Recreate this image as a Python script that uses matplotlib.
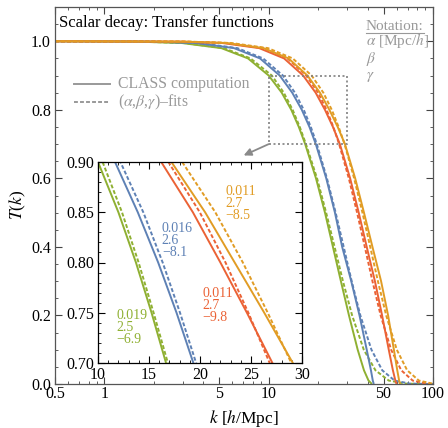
import matplotlib
matplotlib.use('Agg')
import matplotlib.pyplot as plt
from matplotlib.lines import Line2D
from matplotlib.patches import Rectangle
from matplotlib.ticker import MultipleLocator, NullFormatter, LogLocator

plt.rcParams['font.family'] = ['Liberation Serif', 'DejaVu Serif']
plt.rcParams['mathtext.fontset'] = 'stix'

# ---------------- data ----------------
# transfer-function levels at which k was read
T_solid = [1.0, 0.999, 0.995, 0.98, 0.95, 0.9, 0.85, 0.8, 0.75, 0.7, 0.6, 0.5,
           0.4, 0.3, 0.2, 0.1, 0.04, 0.01, 0.0]
T_fit = [1.0, 0.999, 0.995, 0.98, 0.95, 0.9, 0.85, 0.8, 0.75, 0.7, 0.6, 0.5,
         0.4, 0.3, 0.2, 0.1, 0.04, 0.01, 0.001, 0.0]

# CLASS computation (solid), k in h/Mpc
k_green_class = [0.5, 1.55, 2.95, 5.15, 7.48, 10.0, 12.0, 13.72, 15.25, 16.67, 19.4, 22.0,
                 24.6, 27.5, 30.8, 34.8, 38.0, 40.5, 42.5]
k_blue_class = [0.5, 1.95, 3.6, 6.15, 8.85, 11.67, 13.9, 15.9, 17.7, 19.35, 22.4, 25.3,
                28.0, 31.8, 35.7, 39.5, 41.9, 43.0, 43.6]
k_red_class = [0.5, 2.85, 5.2, 8.75, 12.4, 16.2, 19.3, 22.0, 24.6, 27.1, 31.3, 35.3,
               39.5, 44.3, 49.0, 53.8, 57.0, 59.0, 60.0]
k_orange_class = [0.5, 3.05, 5.55, 9.3, 13.2, 17.2, 20.5, 23.4, 26.3, 29.1, 33.6, 38.0,
                  42.8, 48.3, 53.3, 57.8, 60.6, 62.2, 63.0]

# (alpha, beta, gamma)-fits (dashed)
k_green_fit = [0.5, 1.60, 3.05, 5.33, 7.75, 10.45, 12.35, 13.98, 15.45, 16.85, 19.69, 22.36,
               25.17, 28.3, 32.19, 37.9, 44.62, 53.81, 68.3, 100]
k_blue_fit = [0.5, 2.03, 3.77, 6.45, 9.24, 12.2, 14.44, 16.34, 18.04, 19.62, 22.62, 25.55,
              28.6, 31.99, 36.12, 42.2, 49.08, 58.37, 72.5, 100]
k_red_fit = [0.5, 3.02, 5.49, 9.21, 13.0, 16.9, 19.98, 22.5, 24.74, 26.83, 30.74, 34.5,
             38.46, 42.8, 48.02, 55.6, 64.07, 75.23, 91.7, 100]
k_orange_fit = [0.5, 3.25, 5.91, 9.90, 13.99, 18.25, 21.5, 24.2, 26.64, 28.95, 33.11, 37.2,
                41.48, 46.2, 51.9, 60.2, 69.6, 82.1, 99.5, 100]

# fit parameters shown as labels
alpha_lbl = ['0.019', '0.016', '0.011', '0.011']
beta_lbl = ['2.5', '2.6', '2.7', '2.7']
gamma_lbl = ['\u22126.9', '\u22128.1', '\u22129.8', '\u22128.5']

colors = ['#8FB032', '#5E81B5', '#EB6235', '#E19C24']
class_k = [k_green_class, k_blue_class, k_red_class, k_orange_class]
fit_k = [k_green_fit, k_blue_fit, k_red_fit, k_orange_fit]

main_xticks = [0.5, 1, 5, 10, 50, 100]
main_xlabels = ['0.5', '1', '5', '10', '50', '100']
main_yticks = [0.0, 0.2, 0.4, 0.6, 0.8, 1.0]
inset_xticks = [10, 15, 20, 25, 30]
inset_yticks = [0.70, 0.75, 0.80, 0.85, 0.90]

# ---------------- figure ----------------
W, H = 448, 428
fig = plt.figure(figsize=(W / 100, H / 100), dpi=100)


def fx(px):
    return px / W


def fy(py):
    return 1 - py / H


GRAY = '#999999'
LW = 1.4
DASH = (2.0, 1.1)

ax = fig.add_axes([fx(55), fy(384), fx(433) - fx(55), fy(7) - fy(384)])
ax.set_xscale('log')
ax.set_xlim(0.5, 100)
ax.set_ylim(0, 1.1)

for c, kc, kf in zip(colors, class_k, fit_k):
    ax.plot(kc, T_solid, color=c, lw=LW, solid_capstyle='butt')
    ax.plot(kf, T_fit, color=c, lw=LW, dashes=DASH)

ax.set_xticks(main_xticks)
ax.set_xticklabels(main_xlabels)
ax.xaxis.set_minor_locator(LogLocator(base=10, subs=[2, 3, 4, 5, 6, 7, 8, 9], numticks=20))
ax.xaxis.set_minor_formatter(NullFormatter())
ax.set_yticks(main_yticks)
ax.set_yticklabels([f'{v:.1f}' for v in main_yticks])
ax.yaxis.set_minor_locator(MultipleLocator(0.05))
ax.tick_params(which='both', direction='in', top=True, right=True, labelsize=11.5,
               color='#444444')
ax.tick_params(which='major', length=5, width=0.8)
ax.tick_params(which='minor', length=2.5, width=0.6)
ax.tick_params(axis='x', pad=1.5)
ax.tick_params(axis='y', pad=3)
for s in ax.spines.values():
    s.set_color('#555555')
    s.set_linewidth(0.9)

ax.set_xlabel(r'$k$ [$h$/Mpc]', fontsize=12.5, labelpad=4)
ax.set_ylabel(r'$T$($k$)', fontsize=12.5)
ax.yaxis.set_label_coords(-0.072, 0.475)

# zoom box and arrow
ax.add_patch(Rectangle((10, 0.7), 20, 0.2, fill=False, ec='#808080', lw=1.2,
                       ls=(0, (1.2, 1.5)), zorder=5))
ax.annotate('', xy=(7.04, 0.667), xytext=(10, 0.7),
            arrowprops=dict(arrowstyle='-|>', color='#8a8a8a', lw=1.3,
                            mutation_scale=11, shrinkA=0, shrinkB=0), zorder=5)

# title
fig.text(fx(59), fy(23), 'Scalar decay: Transfer functions', fontsize=12, va='center',
         ha='left', color='black')

# legend
fig.add_artist(Line2D([fx(74), fx(110)], [fy(84), fy(84)], color=GRAY, lw=LW))
fig.add_artist(Line2D([fx(74), fx(110)], [fy(102), fy(102)], color=GRAY, lw=LW,
                      dashes=DASH))
fig.text(fx(118), fy(84), 'CLASS computation', fontsize=11.3, color=GRAY, va='center')
fig.text(fx(118), fy(102), r'($\alpha$,$\beta$,$\gamma$)' + '\u2013fits', fontsize=11.3,
         color=GRAY, va='center')

# notation block
fig.text(fx(366), fy(26.5), 'Notation:', fontsize=11, color=GRAY, va='center')
fig.add_artist(Line2D([fx(366), fx(424)], [fy(33), fy(33)], color=GRAY, lw=0.8))
fig.text(fx(366), fy(57.5), r'$\alpha$ [Mpc/$h$]' + '\n' + r'$\beta$' + '\n' + r'$\gamma$',
         fontsize=11, color=GRAY, va='center', ha='left', linespacing=1.0)

# ---------------- inset ----------------
ins = fig.add_axes([fx(98), fy(363), fx(302) - fx(98), fy(162) - fy(363)], zorder=10)
ins.set_facecolor('white')
for c, kc, kf in zip(colors, class_k, fit_k):
    ins.plot(kc, T_solid, color=c, lw=LW)
    ins.plot(kf, T_fit, color=c, lw=LW, dashes=DASH)
ins.set_xlim(10, 30)
ins.set_ylim(0.70, 0.90)
ins.set_xticks(inset_xticks)
ins.set_yticks(inset_yticks)
ins.set_yticklabels([f'{v:.2f}' for v in inset_yticks])
ins.xaxis.set_minor_locator(MultipleLocator(1))
ins.yaxis.set_minor_locator(MultipleLocator(0.01))
ins.tick_params(which='both', direction='in', top=True, right=True, labelsize=11.5)
ins.tick_params(which='major', length=5, width=0.8)
ins.tick_params(which='minor', length=2.5, width=0.6)
ins.tick_params(axis='both', pad=3)
for s in ins.spines.values():
    s.set_color('black')
    s.set_linewidth(0.9)

# parameter labels inside inset (positions in inset data coords, middle line)
label_pos = [(11.80, 0.7351), (16.26, 0.8217), (20.26, 0.7574), (22.51, 0.8589)]
for i, (xk, yv) in enumerate(label_pos):
    ins.text(xk, yv, '\n'.join([alpha_lbl[i], beta_lbl[i], gamma_lbl[i]]),
             color=colors[i], fontsize=10, va='center', ha='left', linespacing=0.9)

fig.savefig('out.png', dpi=100)
